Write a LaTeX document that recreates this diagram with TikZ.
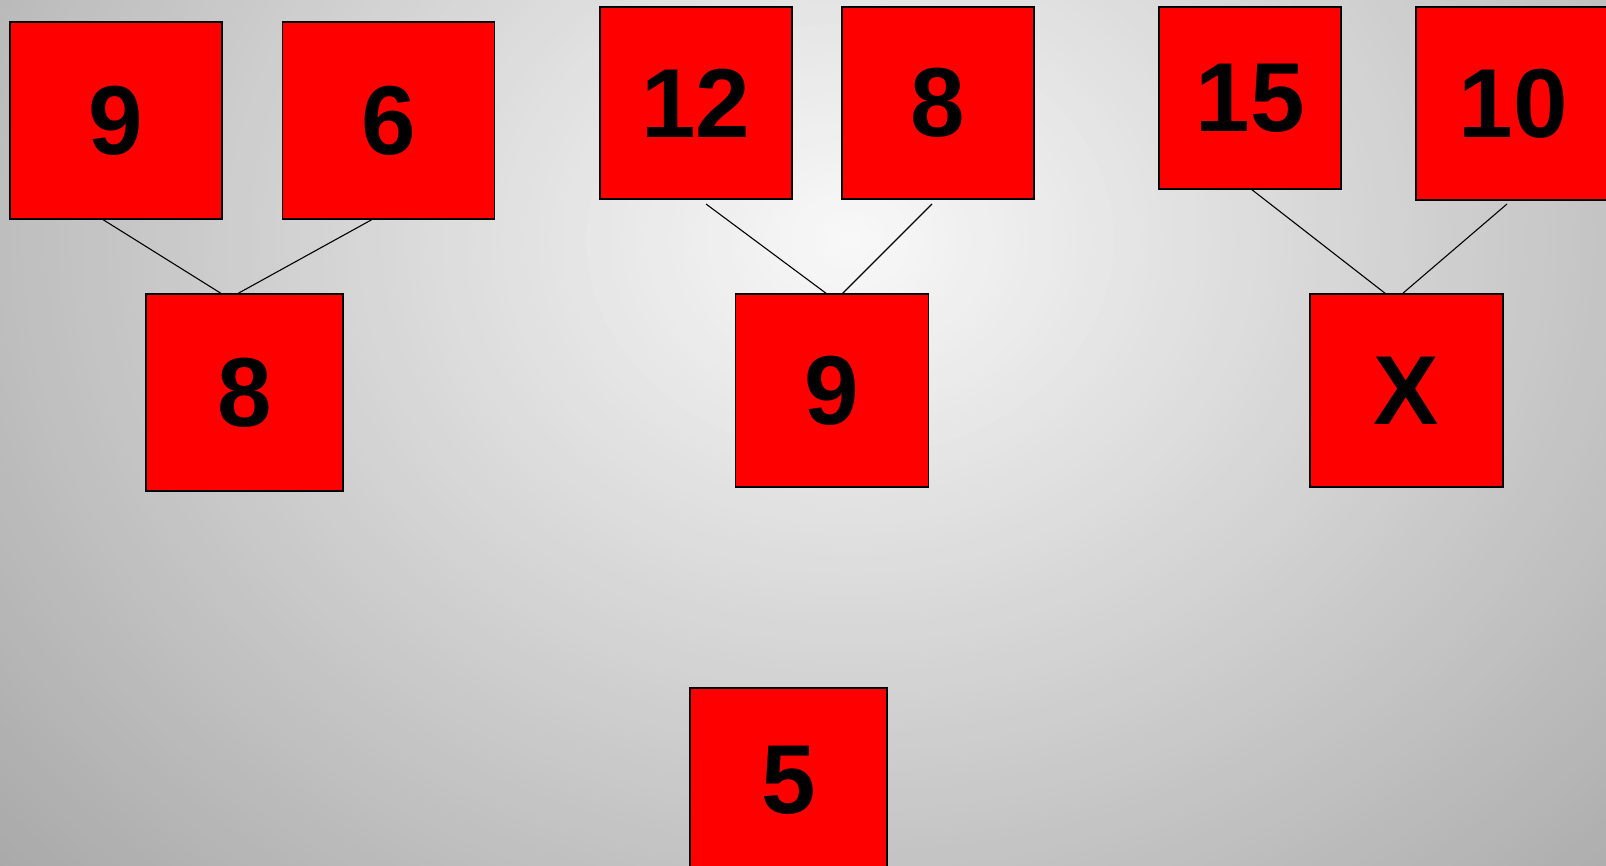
\documentclass[tikz,border=0pt]{standalone}
\usepackage{fontspec}
\setmainfont{Liberation Sans}
\tikzset{
  numbox/.style={draw=black, line width=1.2pt, fill=red, inner sep=0pt, outer sep=0pt,
    minimum width=#1, font=\fontsize{98}{98}\selectfont\bfseries},
  link/.style={draw=black, line width=1.1pt}
}
\begin{document}
\begin{tikzpicture}[x=1pt,y=-1pt]
\useasboundingbox (0,0) rectangle (1606,866);
\begin{scope}
\clip (0,0) rectangle (1606,866);
% radial background, drawn as nested ellipses
\foreach \i in {120,119,...,1} {
  \pgfmathsetmacro\tt{\i/100}
  \pgfmathsetmacro\pp{100*(0.025+0.325*\tt)}
  \fill[black!\pp] (850,240) ellipse [x radius={1200*\tt}, y radius={985*\tt}];
}
% top-left group
\node[numbox=212pt, minimum height=197pt] (n9a) at (116,120.5) {9};
\node[numbox=212pt, minimum height=197pt] (n6) at (388.5,120.5) {6};
\node[numbox=197pt, minimum height=197pt] (n8a) at (244.5,392.5) {8};
% middle group
\node[numbox=192pt, minimum height=192pt] (n12) at (696,103) {12};
\node[numbox=192pt, minimum height=192pt] (n8b) at (938,103) {8};
\node[numbox=193pt, minimum height=193pt] (n9b) at (832,390.5) {9};
% right group
\node[numbox=182pt, minimum height=182pt] (n15) at (1250,98) {15};
\node[numbox=194pt, minimum height=193pt] (n10) at (1513,103.5) {10};
\node[numbox=193pt, minimum height=193pt] (nX) at (1406.5,390.5) {X};
% bottom
\node[numbox=197pt, minimum height=184pt] (n5) at (788.5,780) {5};
% connectors
\draw[link] ([xshift=-14pt]n9a.south) -- ([xshift=-22.5pt]n8a.north);
\draw[link] ([xshift=-15.5pt]n6.south) -- ([xshift=-7.5pt]n8a.north);
\draw[link] ([xshift=10pt,yshift=-5pt]n12.south) -- ([xshift=-5pt]n9b.north);
\draw[link] ([xshift=-6pt,yshift=-5pt]n8b.south) -- ([xshift=10pt]n9b.north);
\draw[link] ([xshift=1pt]n15.south) -- ([xshift=-20.5pt]nX.north);
\draw[link] ([xshift=-6pt,yshift=-4pt]n10.south) -- ([xshift=-4.5pt]nX.north);
\end{scope}
\end{tikzpicture}
\end{document}
